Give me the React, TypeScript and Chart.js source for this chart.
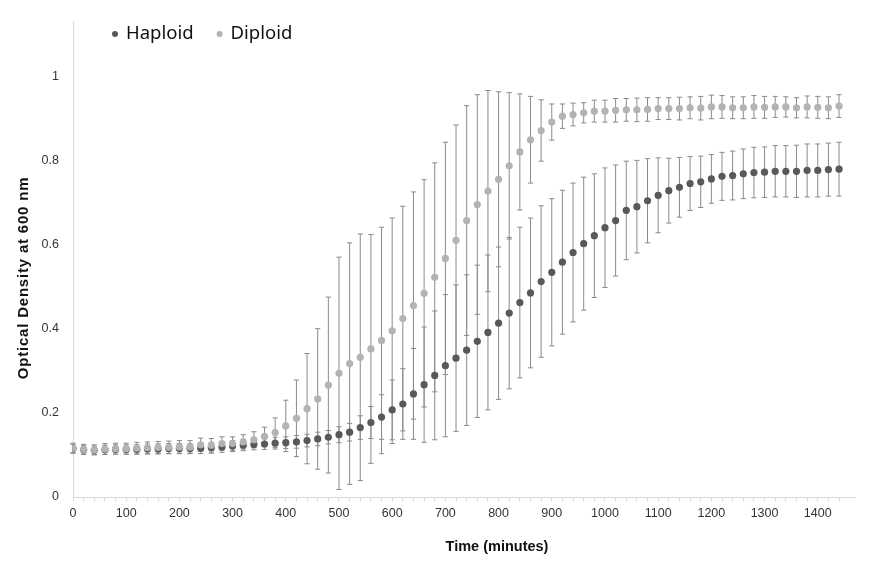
import React, { useEffect, useRef } from "react";
import { Chart, registerables } from "chart.js";

Chart.register(...registerables);

// ---- data ----
const times = [
  0, 20, 40, 60, 80, 100, 120, 140, 160, 180, 200, 220, 240, 260, 280, 300, 320, 340, 360, 380,
  400, 420, 440, 460, 480, 500, 520, 540, 560, 580, 600, 620, 640, 660, 680, 700, 720, 740, 760, 780,
  800, 820, 840, 860, 880, 900, 920, 940, 960, 980, 1000, 1020, 1040, 1060, 1080, 1100, 1120, 1140, 1160, 1180,
  1200, 1220, 1240, 1260, 1280, 1300, 1320, 1340, 1360, 1380, 1400, 1420, 1440,
];

const haploid = [
  0.115, 0.112, 0.111, 0.112, 0.113, 0.113, 0.113, 0.114, 0.114, 0.115, 0.115, 0.115, 0.116, 0.117, 0.119, 0.121, 0.123, 0.125, 0.126, 0.128,
  0.129, 0.131, 0.134, 0.138, 0.142, 0.148, 0.154, 0.165, 0.177, 0.190, 0.207, 0.221, 0.245, 0.267, 0.289, 0.312, 0.330, 0.349, 0.370, 0.391,
  0.413, 0.437, 0.462, 0.485, 0.512, 0.534, 0.558, 0.581, 0.602, 0.621, 0.640, 0.657, 0.681, 0.690, 0.704, 0.717, 0.728, 0.736, 0.745, 0.749,
  0.756, 0.762, 0.764, 0.768, 0.771, 0.772, 0.774, 0.774, 0.774, 0.776, 0.776, 0.778, 0.779,
];

const haploidErr = [
  0.010, 0.010, 0.010, 0.011, 0.011, 0.011, 0.011, 0.012, 0.012, 0.012, 0.012, 0.012, 0.013, 0.013, 0.013, 0.013, 0.013, 0.013, 0.013, 0.014,
  0.014, 0.015, 0.015, 0.016, 0.016, 0.019, 0.021, 0.028, 0.038, 0.053, 0.071, 0.084, 0.108, 0.137, 0.153, 0.169, 0.174, 0.179, 0.181, 0.184,
  0.181, 0.180, 0.179, 0.178, 0.180, 0.175, 0.171, 0.165, 0.158, 0.147, 0.142, 0.132, 0.117, 0.110, 0.100, 0.089, 0.077, 0.071, 0.064, 0.061,
  0.058, 0.057, 0.058, 0.059, 0.060, 0.060, 0.061, 0.061, 0.062, 0.063, 0.063, 0.063, 0.064,
];

const diploid = [
  0.116, 0.113, 0.112, 0.114, 0.115, 0.115, 0.116, 0.117, 0.118, 0.118, 0.119, 0.119, 0.124, 0.123, 0.127, 0.127, 0.131, 0.136, 0.144, 0.153,
  0.169, 0.187, 0.210, 0.233, 0.266, 0.294, 0.317, 0.332, 0.352, 0.372, 0.395, 0.424, 0.455, 0.484, 0.522, 0.567, 0.610, 0.657, 0.695, 0.727,
  0.755, 0.787, 0.820, 0.849, 0.871, 0.891, 0.905, 0.909, 0.913, 0.917, 0.917, 0.919, 0.920, 0.920, 0.921, 0.923, 0.923, 0.923, 0.925, 0.924,
  0.927, 0.927, 0.925, 0.925, 0.927, 0.926, 0.927, 0.927, 0.925, 0.927, 0.926, 0.925, 0.929,
];

const diploidErr = [
  0.012, 0.012, 0.012, 0.013, 0.013, 0.013, 0.014, 0.014, 0.014, 0.015, 0.015, 0.015, 0.016, 0.016, 0.016, 0.016, 0.017, 0.019, 0.022, 0.035,
  0.061, 0.091, 0.131, 0.167, 0.209, 0.276, 0.287, 0.293, 0.272, 0.269, 0.268, 0.267, 0.270, 0.270, 0.272, 0.276, 0.274, 0.273, 0.261, 0.239,
  0.208, 0.174, 0.138, 0.103, 0.073, 0.043, 0.029, 0.027, 0.024, 0.026, 0.026, 0.028, 0.027, 0.028, 0.028, 0.026, 0.026, 0.027, 0.026, 0.028,
  0.028, 0.027, 0.026, 0.026, 0.027, 0.026, 0.025, 0.024, 0.024, 0.026, 0.026, 0.026, 0.027,
];

const seriesNames = ["Haploid", "Diploid"];
const seriesColors = ["#595959", "#b3b3b3"];
const xTitle = "Time (minutes)";
const yTitle = "Optical Density at 600 nm";
const xTickStep = 100;
const xMinorStep = 20;
const yTickStep = 0.2;
const yTickMaxLabel = 1;

const TICK_FONT = "'Liberation Sans', Arial, sans-serif";
const LEGEND_FONT = "'Noto Sans', 'Liberation Sans', sans-serif";
const TITLE_FONT = "'Liberation Sans', Arial, sans-serif";

const errorBarPlugin = {
  id: "errorBars",
  beforeDatasetsDraw(chart: any) {
    const { ctx } = chart;
    const xs = chart.scales.x;
    const ys = chart.scales.y;
    ctx.save();
    ctx.lineWidth = 1;
    ctx.strokeStyle = "#8a8a8a";
    chart.data.datasets.forEach((ds: any) => {
      const errs: number[] = ds.errors;
      ds.data.forEach((pt: any, i: number) => {
        const px = xs.getPixelForValue(pt.x);
        const top = ys.getPixelForValue(pt.y + errs[i]);
        const bot = ys.getPixelForValue(pt.y - errs[i]);
        const cap = 2.6;
        ctx.beginPath();
        ctx.moveTo(px, top);
        ctx.lineTo(px, bot);
        ctx.moveTo(px - cap, top);
        ctx.lineTo(px + cap, top);
        ctx.moveTo(px - cap, bot);
        ctx.lineTo(px + cap, bot);
        ctx.stroke();
      });
    });
    ctx.restore();
  },
};

const decorPlugin = {
  id: "decor",
  afterDraw(chart: any) {
    const { ctx, chartArea } = chart;
    ctx.save();
    // legend
    ctx.font = `18.5px ${LEGEND_FONT}`;
    ctx.textBaseline = "middle";
    ctx.textAlign = "left";
    let lx = chartArea.left + 42;
    const ly = 34;
    seriesNames.forEach((name, i) => {
      ctx.fillStyle = seriesColors[i];
      ctx.beginPath();
      ctx.arc(lx, ly, 3, 0, Math.PI * 2);
      ctx.fill();
      ctx.fillStyle = "#111111";
      ctx.fillText(name, lx + 11, ly);
      lx += 11 + ctx.measureText(name).width + 26;
    });
    // x title
    ctx.fillStyle = "#111111";
    ctx.font = `bold 14.5px ${TITLE_FONT}`;
    ctx.textAlign = "center";
    ctx.textBaseline = "middle";
    ctx.fillText(xTitle, 497, 547);
    // y title
    ctx.font = `bold 15px ${TITLE_FONT}`;
    (ctx as any).letterSpacing = "0.8px";
    ctx.translate(24, 278);
    ctx.rotate(-Math.PI / 2);
    ctx.fillText(yTitle, 0, 0);
    ctx.restore();
  },
};

export default function App() {
  const canvasRef = useRef<HTMLCanvasElement | null>(null);

  useEffect(() => {
    if (!canvasRef.current) return;
    const mk = (vals: number[]) => times.map((t, i) => ({ x: t, y: vals[i] }));
    const chart = new Chart(canvasRef.current, {
      type: "scatter",
      data: {
        datasets: [
          {
            label: seriesNames[0],
            data: mk(haploid),
            errors: haploidErr,
            backgroundColor: seriesColors[0],
            borderWidth: 0,
            pointRadius: 3.6,
            order: 1,
          } as any,
          {
            label: seriesNames[1],
            data: mk(diploid),
            errors: diploidErr,
            backgroundColor: seriesColors[1],
            borderWidth: 0,
            pointRadius: 3.6,
            order: 0,
          } as any,
        ],
      },
      options: {
        responsive: false,
        animation: false,
        layout: { padding: { top: 20, right: 37, left: 0, bottom: 0 } },
        plugins: {
          legend: { display: false },
          tooltip: { enabled: false },
        },
        scales: {
          x: {
            type: "linear",
            min: 0,
            max: 1470,
            afterFit: (s: any) => {
              s.height = 74;
            },
            afterBuildTicks: (s: any) => {
              s.ticks = s.ticks.filter((t: any) => t.value % xMinorStep === 0);
            },
            grid: {
              display: true,
              drawOnChartArea: false,
              drawTicks: true,
              tickLength: 4,
              color: "#d9d9d9",
            },
            border: { display: true, color: "#d9d9d9", width: 1 },
            ticks: {
              stepSize: xMinorStep,
              autoSkip: false,
              maxRotation: 0,
              padding: 5,
              color: "#333333",
              font: { family: TICK_FONT, size: 12.5 },
              callback: (v: any) => (Number(v) % xTickStep === 0 ? String(v) : ""),
            },
          },
          y: {
            type: "linear",
            min: 0,
            max: 1.13,
            afterFit: (s: any) => {
              s.width = 73;
            },
            afterBuildTicks: (s: any) => {
              s.ticks = s.ticks.filter((t: any) => t.value <= yTickMaxLabel + 1e-6);
            },
            grid: { display: false, drawTicks: false },
            border: { display: true, color: "#d9d9d9", width: 1 },
            ticks: {
              stepSize: yTickStep,
              padding: 14,
              color: "#333333",
              font: { family: TICK_FONT, size: 12.5 },
              callback: (v: any) => String(Number(Number(v).toFixed(1))),
            },
          },
        },
      } as any,
      plugins: [errorBarPlugin, decorPlugin],
    });
    return () => chart.destroy();
  }, []);

  return (
    <div style={{ position: "fixed", left: 0, top: 0, width: 892, height: 571, background: "#ffffff" }}>
      <canvas ref={canvasRef} width={892} height={571} style={{ width: 892, height: 571, display: "block" }} />
    </div>
  );
}
